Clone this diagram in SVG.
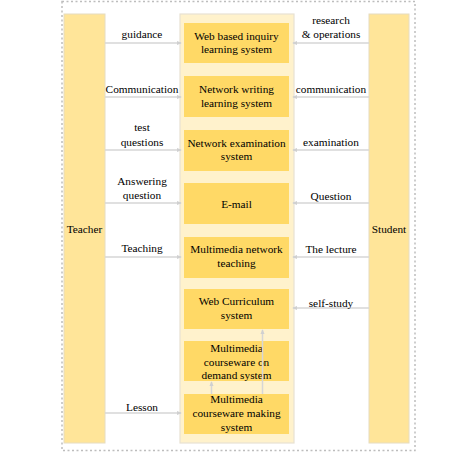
<svg xmlns="http://www.w3.org/2000/svg" width="474" height="452" viewBox="0 0 474 452">
<style>
text{font-family:"Liberation Serif","Times New Roman",serif;font-size:11.3px;fill:#000;text-anchor:middle}
.col{fill:#FFE599;stroke:#E6DCC0;stroke-width:1}
.box{fill:#FFD966;stroke:none}
.ln{stroke:#D6D6D6;stroke-width:1.5;fill:none}
</style>
<defs>
<marker id="ah" viewBox="0 0 6 6" refX="5" refY="3" markerWidth="3.5" markerHeight="3.5" orient="auto"><path d="M0,0.5L6,3L0,5.5z" fill="#D0D0D0"/></marker>
</defs>
<rect x="62" y="1.5" width="353" height="449" fill="none" stroke="#BDBDBD" stroke-width="1.5" stroke-dasharray="2,2.5"/>
<g id="teacher"><rect class="col" x="64" y="14" width="41" height="429"/><text x="84.5" y="233">Teacher</text></g>
<g id="student"><rect class="col" x="369" y="14" width="40" height="429"/><text x="389" y="233">Student</text></g>
<g id="container"><rect x="180" y="14" width="114" height="429" fill="#FFF2CC" stroke="#E8E2D2" stroke-width="1.2"/></g>
<g id="n1"><rect class="box" x="184" y="23" width="105" height="40"/><text x="236.5" y="39.5">Web based inquiry</text><text x="236.5" y="53">learning system</text></g>
<g id="n2"><rect class="box" x="184" y="76" width="105" height="41"/><text x="236.5" y="93">Network writing</text><text x="236.5" y="106.5">learning system</text></g>
<g id="n3"><rect class="box" x="184" y="130" width="105" height="41"/><text x="236.5" y="146.5">Network examination</text><text x="236.5" y="160">system</text></g>
<g id="n4"><rect class="box" x="184" y="183" width="105" height="41"/><text x="236.5" y="207.5">E-mail</text></g>
<g id="n5"><rect class="box" x="184" y="237" width="105" height="41"/><text x="236.5" y="253">Multimedia network</text><text x="236.5" y="267">teaching</text></g>
<g id="n6"><rect class="box" x="184" y="289" width="105" height="40"/><text x="236.5" y="305">Web Curriculum</text><text x="236.5" y="319">system</text></g>
<g id="n7"><rect class="box" x="184" y="341" width="105" height="40"/><text x="236.5" y="352">Multimedia</text><text x="236.5" y="365.5">courseware on</text><text x="236.5" y="378.5">demand system</text></g>
<g id="n8"><rect class="box" x="184" y="394" width="105" height="40"/><text x="236.5" y="403">Multimedia</text><text x="236.5" y="417">courseware making</text><text x="236.5" y="431">system</text></g>
<g id="connectors">
<path class="ln" marker-end="url(#ah)" d="M105,43H181"/>
<path class="ln" marker-end="url(#ah)" d="M105,97H181"/>
<path class="ln" marker-end="url(#ah)" d="M105,150H181"/>
<path class="ln" marker-end="url(#ah)" d="M105,203H181"/>
<path class="ln" marker-end="url(#ah)" d="M105,257H181"/>
<path class="ln" marker-end="url(#ah)" d="M105,413H181"/>
<path class="ln" marker-end="url(#ah)" d="M369,43H293"/>
<path class="ln" marker-end="url(#ah)" d="M369,97H293"/>
<path class="ln" marker-end="url(#ah)" d="M369,150H293"/>
<path class="ln" marker-end="url(#ah)" d="M369,203H293"/>
<path class="ln" marker-end="url(#ah)" d="M369,257H293"/>
<path class="ln" marker-end="url(#ah)" d="M369,308H293"/>
<path class="ln" marker-end="url(#ah)" d="M262.5,394V330"/>
<path class="ln" marker-end="url(#ah)" d="M211.5,394V382"/>
</g>
<g id="labels">
<text x="142" y="38">guidance</text>
<text x="142" y="93">Communication</text>
<text x="142" y="131">test</text><text x="142" y="145.5">questions</text>
<text x="142" y="185">Answering</text><text x="142" y="199">question</text>
<text x="142" y="252">Teaching</text>
<text x="142" y="411">Lesson</text>
<text x="331" y="24">research</text><text x="331" y="38">&amp; operations</text>
<text x="331" y="93">communication</text>
<text x="331" y="146">examination</text>
<text x="331" y="200">Question</text>
<text x="331" y="253">The lecture</text>
<text x="331" y="307">self-study</text>
</g>
</svg>
